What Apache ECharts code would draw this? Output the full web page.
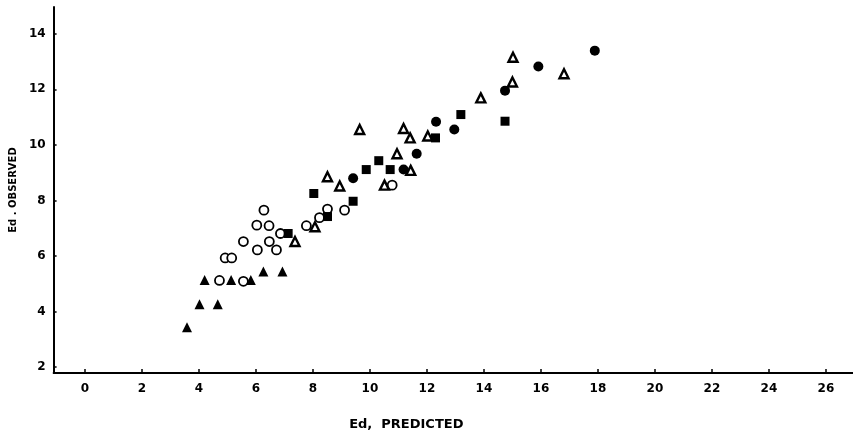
<!DOCTYPE html>
<html>
<head>
<meta charset="utf-8">
<script src="https://cdn.jsdelivr.net/npm/echarts@6/dist/echarts.min.js"></script>
<style>
html,body{margin:0;padding:0;background:#fff;}
#chart{width:853px;height:437px;}
</style>
</head>
<body>
<div id="chart"></div>
<script>
// Tick labels
const xTicks = [0, 2, 4, 6, 8, 10, 12, 14, 16, 18, 20, 22, 24, 26];
const yTicks = [2, 4, 6, 8, 10, 12, 14];

// Series values: [Ed predicted, Ed observed]
const filledTriangles = [
  [3.58, 3.44], [4.02, 4.26], [4.66, 4.26], [4.20, 5.14], [5.13, 5.14],
  [5.82, 5.14], [6.26, 5.44], [6.93, 5.44]
];
const openCircles = [
  [4.72, 5.12], [5.56, 5.09], [4.92, 5.93], [5.15, 5.93], [5.56, 6.52],
  [6.05, 6.22], [6.47, 6.52], [6.72, 6.22], [6.03, 7.11], [6.46, 7.09],
  [6.28, 7.65], [6.86, 6.81], [7.77, 7.09], [8.23, 7.38], [8.51, 7.69],
  [9.11, 7.65], [10.78, 8.55]
];
const filledSquares = [
  [7.13, 6.81], [8.03, 8.25], [8.51, 7.42], [9.41, 7.97], [9.87, 9.11],
  [10.31, 9.43], [10.71, 9.11], [12.30, 10.25], [13.19, 11.09], [14.74, 10.85]
];
const filledCircles = [
  [9.41, 8.80], [11.18, 9.11], [11.64, 9.68], [12.32, 10.83], [12.96, 10.55],
  [14.74, 11.95], [15.91, 12.82], [17.89, 13.39]
];
const openTriangles = [
  [7.37, 6.52], [8.07, 7.05], [8.94, 8.52], [8.51, 8.85], [9.64, 10.55],
  [10.51, 8.55], [10.95, 9.68], [11.18, 10.59], [11.41, 10.25], [11.43, 9.08],
  [12.03, 10.32], [13.89, 11.69], [15.00, 12.26], [15.02, 13.15], [16.81, 12.56]
];

const FONT = '"DejaVu Sans", "Liberation Sans", sans-serif';
const chart = echarts.init(document.getElementById('chart'), null, {renderer: 'canvas'});

function scatter(data, symbol, size, filled, borderWidth) {
  return {
    type: 'scatter',
    data: data,
    symbol: symbol,
    symbolSize: size,
    itemStyle: filled
      ? {color: '#000', borderWidth: 0, opacity: 1}
      : {color: '#fff', borderColor: '#000', borderWidth: borderWidth, opacity: 1},
    emphasis: {disabled: true},
    animation: false
  };
}

chart.setOption({
  animation: false,
  backgroundColor: '#fff',
  grid: {left: 50, right: 0, top: 7, bottom: 64, containLabel: false},
  xAxis: {
    type: 'value',
    min: -1.1,
    max: 26.95,
    name: 'Ed,  PREDICTED',
    nameLocation: 'middle',
    nameGap: 45,
    nameTextStyle: {color: '#000', fontWeight: 'bold', fontSize: 13, fontFamily: FONT, padding: [0, 94, 0, 0]},
    axisLine: {show: true, onZero: false, lineStyle: {color: '#000', width: 2}},
    axisTick: {show: true, inside: true, length: 4, customValues: xTicks, lineStyle: {color: '#000', width: 1.5}},
    axisLabel: {customValues: xTicks, color: '#000', fontWeight: 'bold', fontSize: 12, fontFamily: FONT, margin: 10},
    splitLine: {show: false}
  },
  yAxis: {
    type: 'value',
    min: 1.79,
    max: 14.96,
    name: 'Ed . OBSERVED',
    nameLocation: 'middle',
    nameGap: 30,
    nameTextStyle: {color: '#000', fontWeight: 'bold', fontSize: 10, fontFamily: FONT},
    axisLine: {show: true, onZero: false, lineStyle: {color: '#000', width: 2}},
    axisTick: {show: true, inside: true, length: 3, customValues: yTicks, lineStyle: {color: '#000', width: 1.5}},
    axisLabel: {customValues: yTicks, color: '#000', fontWeight: 'bold', fontSize: 12, fontFamily: FONT, margin: 8},
    splitLine: {show: false}
  },
  series: [
    scatter(openCircles, 'circle', 9, false, 1.8),
    scatter(openTriangles, 'triangle', 9, false, 2.4),
    scatter(filledTriangles, 'triangle', 10, true, 0),
    scatter(filledSquares, 'rect', 9, true, 0),
    scatter(filledCircles, 'circle', 10, true, 0)
  ]
});
</script>
</body>
</html>
